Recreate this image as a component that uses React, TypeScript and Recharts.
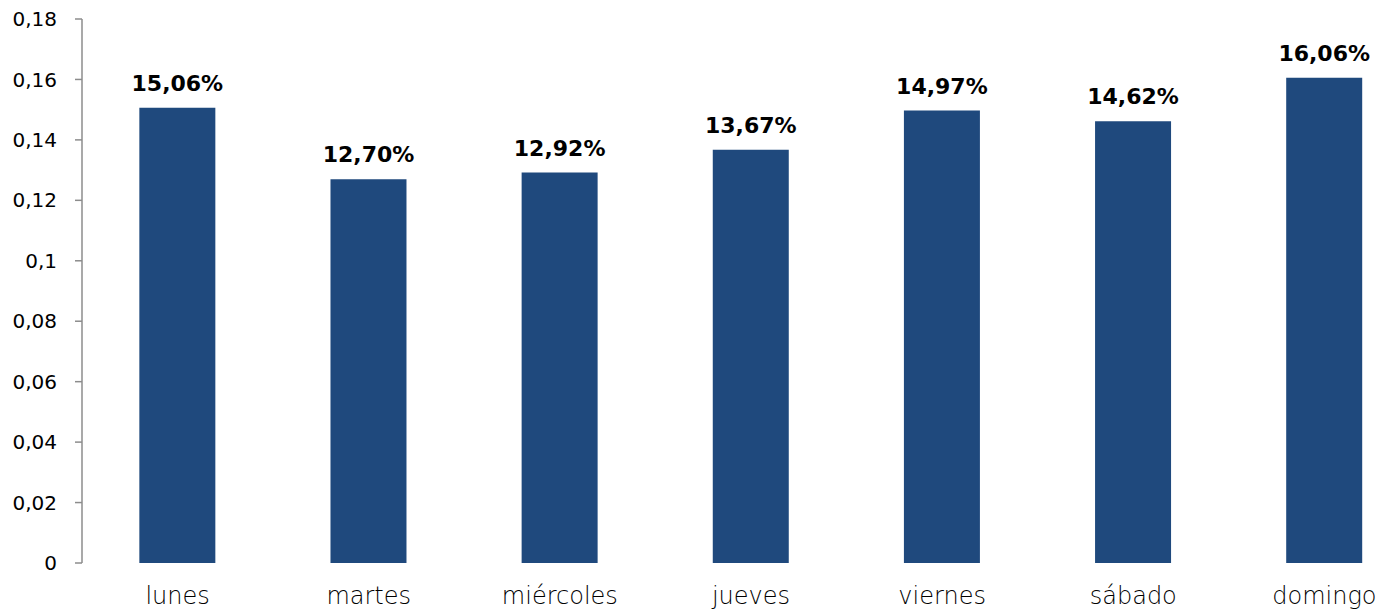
import React from 'react';
import { BarChart, Bar, XAxis, YAxis, LabelList } from 'recharts';

const days = ['lunes', 'martes', 'miércoles', 'jueves', 'viernes', 'sábado', 'domingo'];
const shares = [0.1506, 0.127, 0.1292, 0.1367, 0.1497, 0.1462, 0.1606];
const yTicks = [0, 0.02, 0.04, 0.06, 0.08, 0.1, 0.12, 0.14, 0.16, 0.18];

const data = days.map((day, i) => ({ day, share: shares[i] }));

const font = '"DejaVu Sans", sans-serif';

const fmtTick = (v: number) => String(Number(v.toFixed(2))).replace('.', ',');
const fmtPct = (v: number) => (v * 100).toFixed(2).replace('.', ',') + '%';

export default function App() {
  return (
    <div style={{ position: 'absolute', left: 0, top: 0, width: 1385, height: 610, overflow: 'hidden', background: '#fff' }}>
      <BarChart
        width={1420}
        height={610}
        data={data}
        margin={{ top: 19, right: 0, left: 0, bottom: 0 }}
        barCategoryGap="30%"
      >
        <XAxis
          dataKey="day"
          axisLine={false}
          tickLine={false}
          height={47}
          tickMargin={18}
          tick={{ fill: '#000', fontSize: 24, fontFamily: font, fontWeight: 300 }}
          interval={0}
        />
        <YAxis
          domain={[0, 0.18]}
          ticks={yTicks}
          width={82}
          tickFormatter={fmtTick}
          axisLine={{ stroke: '#8c8c8c', strokeWidth: 1.5 }}
          tickLine={{ stroke: '#8c8c8c', strokeWidth: 1.5 }}
          tickSize={7}
          tickMargin={18}
          tick={{ fill: '#000', fontSize: 20, fontFamily: font }}
        />
        <Bar dataKey="share" fill="#1F497D" isAnimationActive={false}>
          <LabelList
            dataKey="share"
            position="top"
            offset={17}
            formatter={(v: number) => fmtPct(v)}
            style={{ fill: '#000', fontSize: 22, fontWeight: 'bold', fontFamily: font }}
          />
        </Bar>
      </BarChart>
    </div>
  );
}
